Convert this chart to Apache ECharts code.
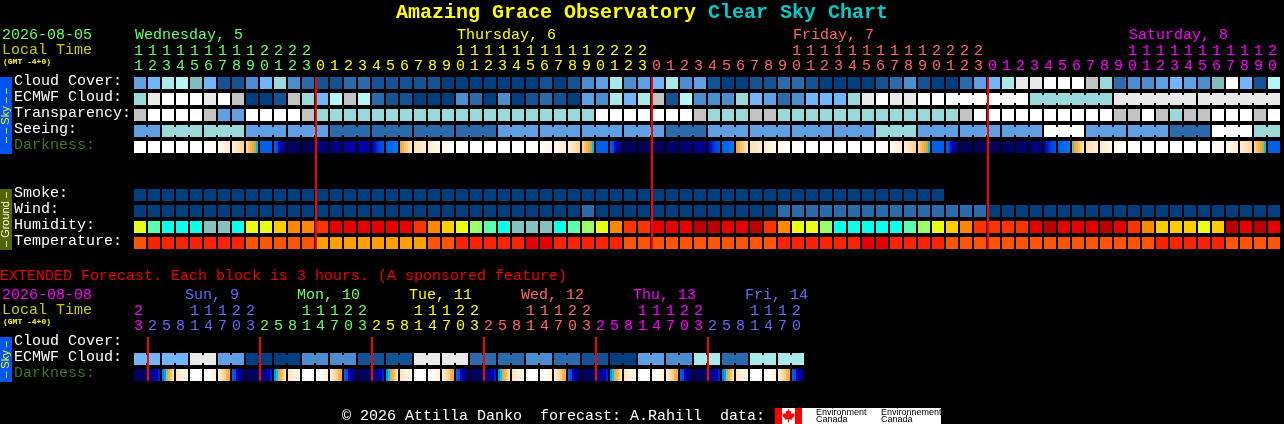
<!DOCTYPE html>
<html><head><meta charset="utf-8">
<style>html,body{margin:0;padding:0;background:#000}#c{width:1284px;height:424px}</style>
<script src="https://cdn.jsdelivr.net/npm/echarts@6/dist/echarts.min.js"></script>
</head><body><div id="c"></div>
<script>
const MONO='"Liberation Mono","DejaVu Sans Mono",monospace';
// ---------- tick labels
const hours=[11,12,13,14,15,16,17,18,19,20,21,22,23,0,1,2,3,4,5,6,7,8,9,10,11,12,13,14,15,16,17,18,19,20,21,22,23,0,1,2,3,4,5,6,7,8,9,10,11,12,13,14,15,16,17,18,19,20,21,22,23,0,1,2,3,4,5,6,7,8,9,10,11,12,13,14,15,16,17,18,19,20];
const extHours=[23,2,5,8,11,14,17,20,23,2,5,8,11,14,17,20,23,2,5,8,11,14,17,20,23,2,5,8,11,14,17,20,23,2,5,8,11,14,17,20,23,2,5,8,11,14,17,20];
const dayColors=['#66ff66','#ffff00','#ff6666','#ff00ff'];
const extDayColors=['#ff00ff','#6666ff','#66ff66','#ffff00','#ff6666','#ff00ff','#6666ff'];
const dayStarts=[0,13,37,61];
const extDayStarts=[0,1,9,17,25,33,41];
const dayTitles=[['Wednesday, 5',0],['Thursday, 6',23],['Friday, 7',47],['Saturday, 8',71]];
const extDayTitles=['Sun, 9','Mon, 10','Tue, 11','Wed, 12','Thu, 13','Fri, 14'];
const rowLabels=['Cloud Cover:','ECMWF Cloud:','Transparency:','Seeing:','Darkness:','','','Smoke:','Wind:','Humidity:','Temperature:'];
const extRowLabels=['Cloud Cover:','ECMWF Cloud:','Darkness:'];
const midnightCols=[13,37,61];
const extMidnightCols=[1,9,17,25,33,41];
// ---------- series values (palette levels)
const cloudCover=[4,5,8,9,6,5,1,1,3,5,7,3,2,1,1,2,2,1,1,1,1,1,0,0,0,0,0,0,0,1,0,1,3,4,8,3,4,5,8,3,4,1,0,0,1,1,2,2,1,0,0,0,0,1,2,3,1,0,0,2,4,5,8,11,11,12,12,12,10,7,2,3,3,4,5,4,3,6,12,5,1,9];
const ecmwfCloud=[7,11,12,12,12,11,12,10,0,0,1,10,7,5,9,10,9,2,1,1,0,0,0,3,2,0,3,0,1,2,1,0,4,3,8,5,8,10,1,9,3,3,3,7,5,4,2,3,5,5,5,7,11,12,11,11,12,12,12,12,12,12,12,12,7,7,7,7,7,7,11,11,11,11,11,11,11,11,11,11,11,11];
const transparency=[10,12,12,12,12,10,4,4,12,12,12,12,10,7,7,7,7,7,7,7,7,7,7,7,7,7,7,7,7,7,7,7,7,12,12,12,12,12,12,12,10,7,7,7,10,10,7,7,7,7,7,7,7,7,7,7,7,7,7,10,12,12,12,12,12,12,12,12,12,12,10,10,12,10,7,10,10,12,12,12,10,12];
const seeing=[4,4,7,7,7,7,7,7,4,4,4,4,4,4,2,2,2,2,2,2,2,2,2,2,2,2,4,4,4,4,4,4,4,4,4,4,4,4,2,2,2,4,4,4,4,4,4,4,4,4,4,4,4,7,7,7,4,4,4,4,4,4,4,4,4,12,12,12,4,4,4,4,4,4,2,2,2,12,12,12,7,7];
const smoke=[0,0,0,0,0,0,0,0,0,0,0,0,0,0,0,0,0,0,0,0,0,0,0,0,0,0,0,0,0,0,0,0,0,0,0,0,0,0,0,0,0,0,0,0,0,0,0,0,0,0,0,0,0,0,0,0,0,0];
const wind=[0,0,0,0,0,0,0,0,0,0,0,0,0,0,0,0,0,0,0,0,0,0,0,0,0,0,0,0,0,0,0,0,2,0,0,0,0,0,0,0,0,0,0,0,0,0,2,2,2,2,2,2,2,2,2,2,2,2,2,2,2,0,0,0,0,0,0,0,0,0,0,0,0,0,0,0,0,0,0,0,0,0];
const humidity=[4,2,1,1,1,0,0,1,4,4,5,6,6,7,8,8,8,8,8,8,7,6,5,4,3,2,1,0,0,0,1,2,3,4,6,7,7,8,8,8,9,9,8,8,9,7,6,4,4,3,1,1,1,1,1,2,3,4,5,6,7,7,7,7,8,9,8,8,8,9,8,7,6,5,5,5,4,5,9,8,9,8];
const temperature=[2,1,1,1,1,1,1,1,2,2,2,2,2,3,3,3,3,3,3,3,3,2,2,1,1,1,1,1,0,0,1,1,1,1,1,2,2,2,2,2,2,2,2,2,2,2,1,1,1,1,1,1,0,0,1,1,1,1,2,2,2,2,2,2,2,2,2,2,2,2,2,2,2,1,1,1,1,1,2,2,2,2];
const darkStart=[0,0,0,0,0,0,0.8,2,3.6,8,8,13.5,14,13,12.5,11.5,11,10,8,5,2.8,2,1,0.2,0,0,0,0,0,0.4,1,2,3.6,8,8,14,14.5,14.5,14,13,12,10,8,5,2.8,2,1,0.2,0,0,0,0,0,0,0.8,2,3.6,8,8,14.5,14.5,14.5,14,13.5,13,10,8,5.8,2.8,2,1,0,0,0,0,0,0,0.3,1,2,3.6,8];
const darkEnd=[0,0,0,0,0,0.6,2,3.6,6.3,8,12.5,14,14.5,13,12.5,11.5,11,8.5,7.5,2.8,2,1,0.3,0,0,0,0,0,0.2,1,2,3.6,6.3,8,12.5,14.5,14.5,14,13.5,13,12,8.5,7.5,2.8,2,1,0.3,0,0,0,0,0,0,0.6,1.8,3.5,6.3,8,12.5,14.5,14.5,14.5,14,13.5,13,8.5,7.5,3,2,1.2,0.3,0,0,0,0,0,0,0.8,1.8,3.3,6.3,8];
const extCloud=[];
const extEcmwf=[5,5,5,5,11,11,4,4,0,0,0,0,3,3,3,3,1,1,1,1,11,11,11,11,2,2,2,2,3,3,2,2,1,1,0,0,4,4,3,3,8,8,2,2,8,8,8,8];
const extDarkStart=[14,13.5,7.5,2.5,0,0,2,8,14,13.5,7,2.5,0,0,2,8,14,13.5,7,2.5,0,0,2,8,14,13.5,7,2.5,0,0,2,8,14,13.5,7,2.5,0,0,2,8,14,13.5,7.5,2.5,0,0,2,8];
const extDarkEnd=[14,9.5,3,0.6,0,1.5,5,13,14,9.5,3,0.6,0,1.5,5,13,14,9.5,3,0.6,0,1.5,5,13,14,9.5,3,0.6,0,1.5,5,13,14,9.5,3,0.6,0,1.5,5,13,14,9.5,3,0.6,0,1.5,5,13];
// ---------- blocks joined with a bridge
const ecmwfJoins=[[58,63],[64,69],[70,75],[76,81]];
const seeingJoins=[[0,1],[2,4],[5,7],[8,10],[11,13],[14,16],[17,19],[20,22],[23,25],[26,28],[29,31],[32,34],[35,37],[38,40],[41,43],[44,46],[47,49],[50,52],[53,55],[56,58],[59,61],[62,64],[65,67],[68,70],[71,73],[74,76],[77,79],[80,81]];
const extEcmwfJoins=[[0,1],[2,3],[4,5],[6,7],[8,9],[10,11],[12,13],[14,15],[16,17],[18,19],[20,21],[22,23],[24,25],[26,27],[28,29],[30,31],[32,33],[34,35],[36,37],[38,39],[40,41],[42,43],[44,45],[46,47]];
const extDarkJoins=[[0,1],[8,9],[16,17],[24,25],[32,33],[40,41]];
// ---------- palettes
const skyPalette=['#003f7f','#135393','#2b6aab','#4c8dd0','#5f9fe3','#72b5fa','#7fbfbf','#99d9d9','#a9e9e9','#b6f6f6','#c3c3c3','#e9e9e9','#ffffff'];
const humPalette=['#86c1c1','#0cffeb','#5cffb2','#99ff66','#e9ff14','#ffcc00','#ff8800','#ff3300','#e60000','#bb0000'];
const tempPalette=['#e60000','#ff2200','#ff5500','#ffa000'];
const darkRamp=[[0,[255,255,255]],[1,[255,246,232]],[2,[255,236,208]],[3,[255,222,176]],[4,[255,198,120]],[5,[255,166,40]],[5.6,[232,176,56]],[6,[0,208,224]],[7,[0,144,255]],[8,[0,96,232]],[9,[0,72,216]],[10,[0,0,192]],[11,[0,0,170]],[12,[0,0,144]],[13,[0,0,120]],[14,[0,0,96]],[15,[0,0,80]]];
function darkColor(v){
  for(let i=1;i<darkRamp.length;i++){
    if(v<=darkRamp[i][0]){
      const [a,ca]=darkRamp[i-1],[b,cb]=darkRamp[i],t=(v-a)/(b-a);
      return 'rgb('+ca.map((c,k)=>Math.round(c+(cb[k]-c)*t)).join(',')+')';
    }
  }
  return 'rgb(0,0,80)';
}
function darkFill(s,e){
  const n=6,stops=[];
  for(let k=0;k<n;k++){
    const c=darkColor(s+(e-s)*(k/(n-1)));
    stops.push({offset:k/n,color:c},{offset:(k+1)/n,color:c});
  }
  return new echarts.graphic.LinearGradient(0,0,1,0,stops);
}
function colorAt(starts,colors,col){let c=colors[0];starts.forEach((s,i)=>{if(col>=s)c=colors[i];});return c;}

function cellSeries(axis,row,values,palette){
  return {type:'custom',xAxisIndex:axis,yAxisIndex:axis,silent:true,clip:false,z:2,
    encode:{x:0,y:1},data:values.map((v,i)=>[i,row,v]),
    renderItem(p,api){
      const c=api.coord([api.value(0),api.value(1)]),s=api.size([1,1]);
      return {type:'rect',shape:{x:c[0]-s[0]/2+1,y:c[1]-s[1]/2+2,width:s[0]-2,height:s[1]-4},style:{fill:palette[api.value(2)]}};
    }};
}
function darkSeries(axis,row,starts,ends){
  return {type:'custom',xAxisIndex:axis,yAxisIndex:axis,silent:true,clip:false,z:2,
    encode:{x:0,y:1},data:starts.map((v,i)=>[i,row,v,ends[i]]),
    renderItem(p,api){
      const c=api.coord([api.value(0),api.value(1)]),s=api.size([1,1]);
      return {type:'rect',shape:{x:c[0]-s[0]/2+1,y:c[1]-s[1]/2+2,width:s[0]-2,height:s[1]-4},style:{fill:darkFill(api.value(2),api.value(3))}};
    }};
}
function bridgeSeries(axis,row,joins,colorOfCol,height){
  const data=[];
  joins.forEach(([a,b])=>{for(let i=a;i<b;i++)data.push([i,row]);});
  return {type:'custom',xAxisIndex:axis,yAxisIndex:axis,silent:true,clip:false,z:3,
    encode:{x:0,y:1},data,
    renderItem(p,api){
      const col=api.value(0),c=api.coord([col,api.value(1)]),s=api.size([1,1]);
      return {type:'rect',shape:{x:c[0]+s[0]/2-1,y:c[1]-height/2,width:2,height},style:{fill:colorOfCol(col)}};
    }};
}
function redSeries(axis,cols,lastRow){
  return {type:'custom',xAxisIndex:axis,yAxisIndex:axis,silent:true,clip:false,z:5,
    encode:{x:0},data:cols.map(c=>[c]),
    renderItem(p,api){
      const col=api.value(0),t=api.coord([col,0]),b=api.coord([col,lastRow]),s=api.size([1,1]);
      const y0=t[1]-s[1]/2+2,y1=b[1]+s[1]/2-2;
      return {type:'rect',z2:100,shape:{x:t[0]-s[0]/2,y:y0,width:2,height:y1-y0},style:{fill:'#ff0000'}};
    }};
}
function xAxisOf(grid,n,hrs,starts,colors,margin){
  return {type:'category',gridIndex:grid,position:'top',data:hrs.map((h,i)=>String(i)),
    axisLine:{show:false},axisTick:{show:false},splitLine:{show:false},
    axisLabel:{show:true,interval:0,margin,hideOverlap:false,fontFamily:MONO,fontSize:15,lineHeight:15,padding:[0,3,0,0],
      color:(v,i)=>colorAt(starts,colors,+v),
      formatter:(v)=>{const h=hrs[+v];return (h>=10?String(h)[0]:' ')+'\n'+(h%10);}}};
}
function yAxisOf(grid,labels){
  return {type:'category',gridIndex:grid,inverse:true,data:labels,
    axisLine:{show:false},axisTick:{show:false},splitLine:{show:false},
    axisLabel:{show:true,interval:0,align:'left',verticalAlign:'bottom',lineHeight:4,margin:119,fontFamily:MONO,fontSize:15,
      color:(v)=>v==='Darkness:'?'#3a7a14':'#ffffff'}};
}
function txt(x,y,text,fill,size,extra){
  return Object.assign({type:'text',silent:true,x,y,z:10,style:Object.assign({text,fill,font:size+'px '+MONO,verticalAlign:'middle',align:'left'},extra||{})});
}
function sideBar(y0,y1,bg,fg,label){
  return [
    {type:'rect',silent:true,shape:{x:0,y:y0,width:12,height:y1-y0},style:{fill:bg},z:9},
    {type:'text',silent:true,x:6,y:(y0+y1)/2,rotation:Math.PI/2,z:10,style:{text:label,fill:fg,font:'11px "Liberation Sans"',align:'center',verticalAlign:'middle'}}
  ];
}
const leaf=[[0,-6.5],[1.4,-4],[2.8,-4.6],[2.2,-1.2],[3.8,-2.8],[4.2,-1.6],[6.2,-2],[5.6,0],[6.4,0.6],[3.4,3],[3.8,4.2],[0.6,3.8],[0.6,7],[-0.6,7],[-0.6,3.8],[-3.8,4.2],[-3.4,3],[-6.4,0.6],[-5.6,0],[-6.2,-2],[-4.2,-1.6],[-3.8,-2.8],[-2.2,-1.2],[-2.8,-4.6],[-1.4,-4]];

const graphics=[
  txt(396,12.5,'Amazing Grace Observatory','#ffff00',20,{font:'bold 20px '+MONO}),
  txt(708,12.5,'Clear Sky Chart','#00cccc',20,{font:'bold 20px '+MONO}),
  txt(2,35,'2026-08-05','#66ff66',15),
  txt(2,50,'Local Time','#cccc00',15),
  txt(3,61.5,'(GMT -4+0)','#ffff00',8,{font:'bold 8px '+MONO}),
  txt(0,276,'EXTENDED Forecast. Each block is 3 hours. (A sponsored feature)','#f00000',15),
  txt(2,295,'2026-08-08','#ff00ff',15),
  txt(2,310,'Local Time','#cccc00',15),
  txt(3,322,'(GMT -4+0)','#ffff00',8,{font:'bold 8px '+MONO}),
  txt(342,416,'\u00a9 2026 Attilla Danko  forecast: A.Rahill  data:','#ffffff',15),
  {type:'rect',silent:true,z:9,shape:{x:775,y:408,width:166,height:16},style:{fill:'#ffffff'}},
  {type:'rect',silent:true,z:10,shape:{x:775,y:408,width:7,height:16},style:{fill:'#ff0000'}},
  {type:'rect',silent:true,z:10,shape:{x:795,y:408,width:7,height:16},style:{fill:'#ff0000'}},
  {type:'polygon',silent:true,z:10,x:788.5,y:415.5,shape:{points:leaf},style:{fill:'#ff0000'}},
  {type:'text',silent:true,z:10,x:816,y:413,style:{text:'Environment',fill:'#000',font:'9px "Liberation Sans"',verticalAlign:'middle'}},
  {type:'text',silent:true,z:10,x:816,y:420,style:{text:'Canada',fill:'#000',font:'9px "Liberation Sans"',verticalAlign:'middle'}},
  {type:'text',silent:true,z:10,x:881,y:413,style:{text:'Environnement',fill:'#000',font:'9px "Liberation Sans"',verticalAlign:'middle'}},
  {type:'text',silent:true,z:10,x:881,y:420,style:{text:'Canada',fill:'#000',font:'9px "Liberation Sans"',verticalAlign:'middle'}},
  ...sideBar(77,154,'#0055ee','#ffff00','\u2013 \u2013 Sky \u2013 \u2013'),
  ...sideBar(189,250,'#556600','#ffffff','\u2013 Ground \u2013'),
  ...sideBar(337,382,'#0055ee','#ffff00','\u2013 Sky \u2013'),
  ...dayTitles.map(([t,col],i)=>txt(135+col*14,35,t,dayColors[i],15)),
  ...extDayTitles.map((t,i)=>txt(185+i*112,295,t,extDayColors[i+1],15))
];

const option={
  backgroundColor:'#000',animation:false,
  grid:[{left:133,top:75,width:1148,height:176},{left:133,top:335,width:672,height:48}],
  xAxis:[xAxisOf(0,82,hours,dayStarts,dayColors,1),xAxisOf(1,48,extHours,extDayStarts,extDayColors,1)],
  yAxis:[yAxisOf(0,rowLabels),yAxisOf(1,extRowLabels)],
  graphic:{elements:graphics},
  series:[
    cellSeries(0,0,cloudCover,skyPalette),
    cellSeries(0,1,ecmwfCloud,skyPalette),
    cellSeries(0,2,transparency,skyPalette),
    cellSeries(0,3,seeing,skyPalette),
    darkSeries(0,4,darkStart,darkEnd),
    cellSeries(0,7,smoke,skyPalette),
    cellSeries(0,8,wind,skyPalette),
    cellSeries(0,9,humidity,humPalette),
    cellSeries(0,10,temperature,tempPalette),
    bridgeSeries(0,1,ecmwfJoins,c=>skyPalette[ecmwfCloud[c]],8),
    bridgeSeries(0,3,seeingJoins,c=>skyPalette[seeing[c]],8),
    redSeries(0,midnightCols,10),
    cellSeries(1,0,extCloud,skyPalette),
    cellSeries(1,1,extEcmwf,skyPalette),
    darkSeries(1,2,extDarkStart,extDarkEnd),
    bridgeSeries(1,1,extEcmwfJoins,c=>skyPalette[extEcmwf[c]],8),
    bridgeSeries(1,2,extDarkJoins,c=>darkColor(extDarkEnd[c]),12),
    redSeries(1,extMidnightCols,2)
  ]
};
echarts.init(document.getElementById('c'),null,{renderer:'canvas'}).setOption(option);
</script></body></html>
